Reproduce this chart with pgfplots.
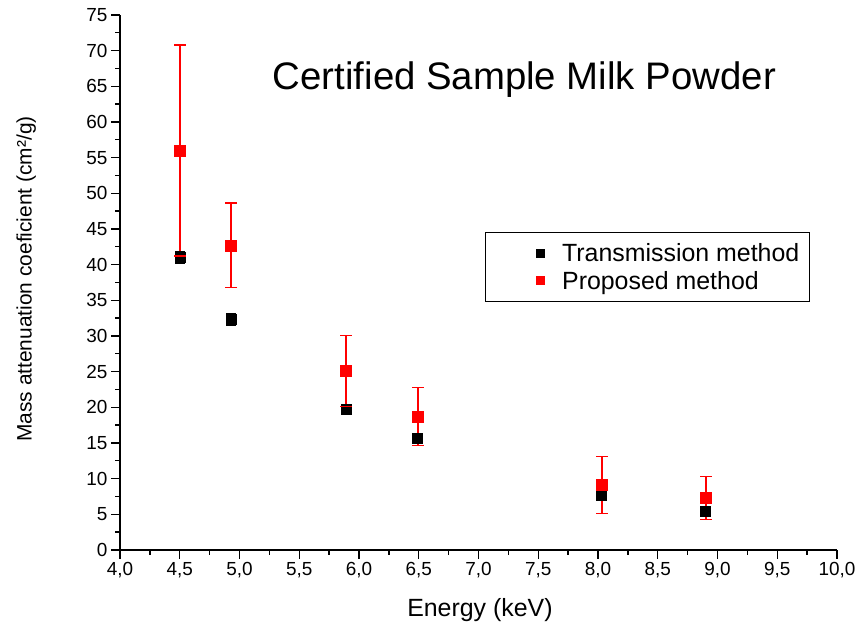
\documentclass[border=0pt]{standalone}
\usepackage{pgfplots}
\pgfplotsset{compat=1.18}
\usepackage{fontspec}
\setmainfont{Liberation Sans}
\begin{document}
\begin{tikzpicture}
\begin{axis}[
  scale only axis, width=717bp, height=535bp,
  xmin=4, xmax=10, ymin=0, ymax=75,
  axis x line*=bottom, axis y line*=left,
  axis line style={line width=1.3bp, -},
  xtick={4,4.5,...,10}, ytick={0,5,...,75},
  minor x tick num=1, minor y tick num=1,
  tick align=outside, major tick length=9bp, minor tick length=5bp,
  tick style={line width=1.3bp, black},
  /pgf/number format/assume math mode=true,
  /pgf/number format/use comma,
  xticklabel style={/pgf/number format/fixed, /pgf/number format/fixed zerofill, /pgf/number format/precision=1, font=\fontsize{19}{22}\selectfont},
  yticklabel style={font=\fontsize{19}{22}\selectfont},
  xlabel={Energy (keV)},
  ylabel={Mass attenuation coeficient (cm²/g)},
  xlabel style={font=\fontsize{25}{29}\selectfont, at={(axis description cs:0.502,-0.112)}, anchor=center},
  ylabel style={font=\fontsize{21}{24}\selectfont, at={(axis description cs:-0.131,0.5065)}, anchor=center},
  legend style={at={(rel axis cs:0.509,0.594)}, anchor=north west, draw=black, line width=0.8bp,
    font=\fontsize{25}{29}\selectfont, inner xsep=8bp, inner ysep=9bp, row sep=4bp},
  legend cell align=left,
  legend image code/.code={%
    \path (0bp,0bp) (66bp,0bp);
    \draw[#1, mark size=4bp] plot coordinates {(47bp,0bp)};},
  clip=false,
  unbounded coords=jump,
]
% black error bars (lower, upper)
\addplot[black, line width=1.5bp, mark=-, mark size=5bp, mark options={solid, line width=1.3bp}, forget plot]
  coordinates {(4.50,40.2) (4.50,41.8) (4.50,nan)
               (4.93,31.5) (4.93,33.1) (4.93,nan)
               (5.89,19.1) (5.89,20.3) (5.89,nan)
               (6.49,15.1) (6.49,16.1) (6.49,nan)
               (8.03,7.2) (8.03,8.2) (8.03,nan)
               (8.90,5.0) (8.90,6.0)};
\addplot[only marks, mark=square*, mark size=5bp, black, mark options={solid, fill=black}]
  table[x=x, y=y] {
x    y
4.50 41.0
4.93 32.3
5.89 19.7
6.49 15.6
8.03 7.7
8.90 5.5
};
\addlegendentry{Transmission method}
% red error bars (lower, upper)
\addplot[draw=red, line width=2bp, mark=-, mark size=6bp, mark options={solid, draw=red, line width=1.3bp}, forget plot]
  coordinates {(4.50,41.2) (4.50,70.8) (4.50,nan)
               (4.93,36.75) (4.93,48.65) (4.93,nan)
               (5.89,20.1) (5.89,30.1) (5.89,nan)
               (6.49,14.65) (6.49,22.75) (6.49,nan)
               (8.03,5.1) (8.03,13.1) (8.03,nan)
               (8.90,4.3) (8.90,10.3)};
\addplot[only marks, mark=square*, mark size=5.5bp, red, mark options={solid, fill=red}]
  table[x=x, y=y] {
x    y
4.50 56.0
4.93 42.7
5.89 25.1
6.49 18.7
8.03 9.1
8.90 7.3
};
\addlegendentry{Proposed method}
\node[font=\fontsize{38.5}{44}\selectfont] at (rel axis cs:0.564,0.8785) {Certified Sample Milk Powder};
\coordinate (bl) at (rel axis cs:-0.1674,-0.1514);
\coordinate (tr) at (rel axis cs:1.0321,1.028);
\end{axis}
\pgfresetboundingbox
\path[use as bounding box] (bl) rectangle (tr);
\end{tikzpicture}
\end{document}
